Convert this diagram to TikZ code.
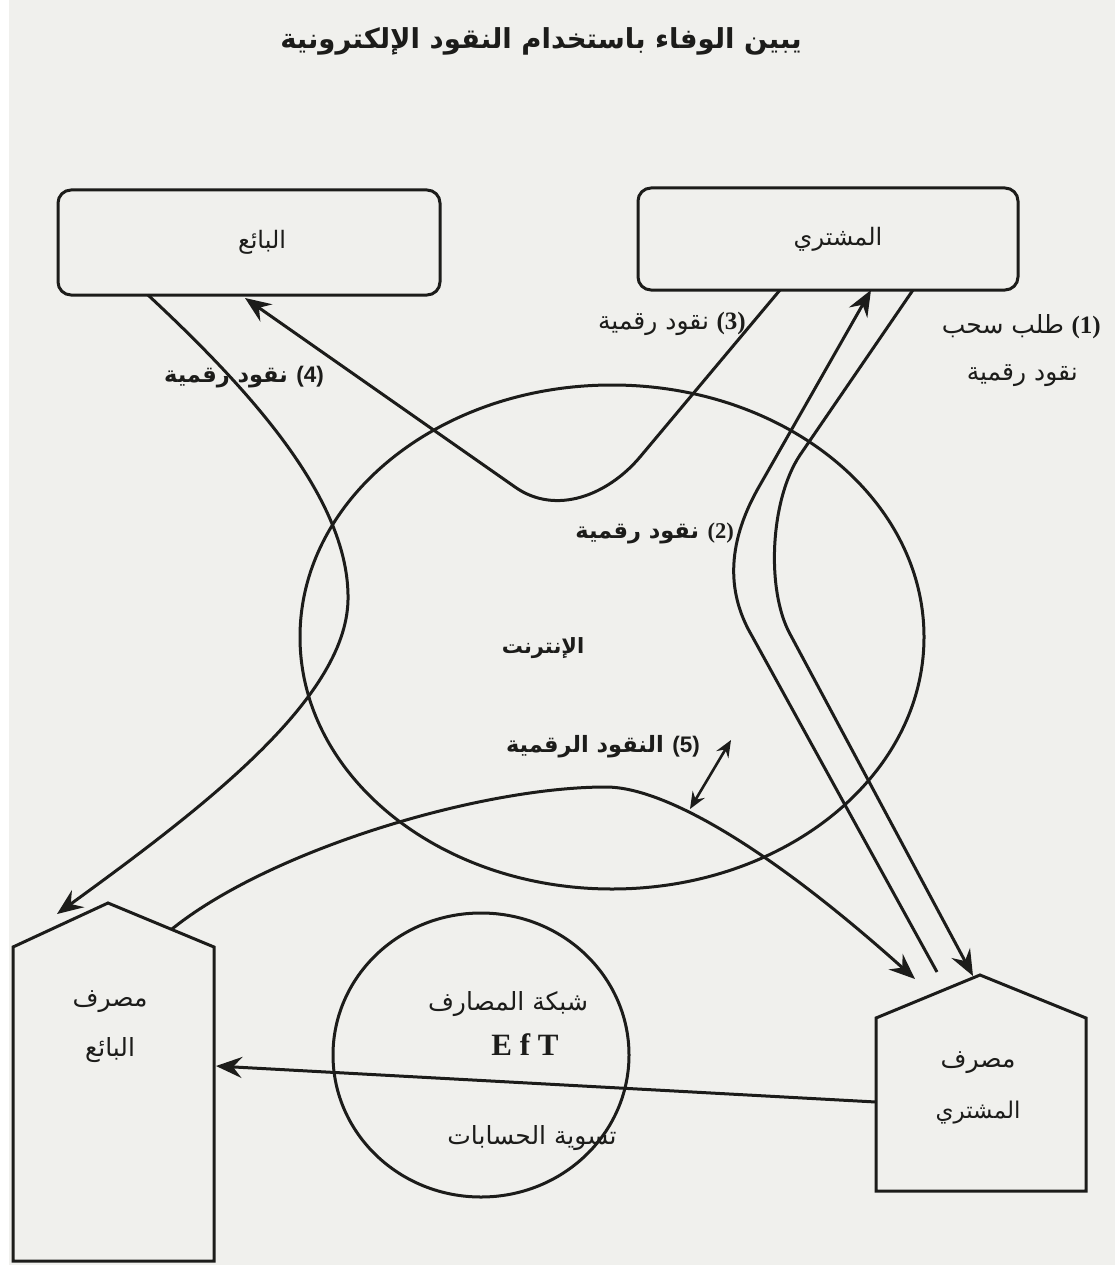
\documentclass[tikz,border=0pt]{standalone}
\usepackage{fontspec}
\usetikzlibrary{arrows.meta,calc,shapes.geometric}
\TeXXeTstate=1
\newfontfamily\ar[Script=Arabic]{DejaVu Sans}
\newfontfamily\numser{Liberation Serif}
\newfontfamily\numsan{Liberation Sans}
\newcommand{\AR}[1]{{\ar\beginR #1\endR}}
\newcommand{\ARB}[1]{{\ar\bfseries\beginR #1\endR}}
\definecolor{bgc}{RGB}{240,240,237}
\definecolor{ink}{RGB}{28,28,26}
\begin{document}
\begin{tikzpicture}[x=1pt,y=-1pt,
  line/.style={draw=ink, line width=3pt},
  arr/.style={line, -{Stealth[length=26pt,width=21pt,inset=9pt]}},
  darr/.style={draw=ink, line width=2.6pt, {Stealth[length=17pt,width=14pt,inset=6pt]}-{Stealth[length=17pt,width=14pt,inset=6pt]}},
  box/.style={draw=ink, line width=3pt, rounded corners=13pt, text=ink, font=\fontsize{24}{28}\selectfont},
  oval/.style={draw=ink, line width=3pt, ellipse, inner sep=0pt},
  lbl/.style={text=ink, inner sep=0pt, font=\fontsize{25}{30}\selectfont},
  blbl/.style={lbl, font=\fontsize{22.5}{27}\selectfont\bfseries},
]
\fill[bgc] (0,0) rectangle (1115,1265);
\fill[white] (0,0) rectangle (9,1265);
\useasboundingbox (0,0) rectangle (1115,1265);

% title
\node[lbl, font=\fontsize{27.5}{33}\selectfont\bfseries] (title) at (541,41) {\ARB{يبين الوفاء باستخدام النقود الإلكترونية}};

% boxes
\node[box, minimum width=382pt, minimum height=105pt] (seller) at (249,242.5) {\hspace*{26pt}\raisebox{4pt}{\AR{البائع}}};
\node[box, minimum width=380pt, minimum height=102pt] (buyer) at (828,239) {\hspace*{20pt}\raisebox{5pt}{\AR{المشتري}}};

% ellipses
\node[oval, minimum width=624pt, minimum height=504pt] (net) at (612,637) {};
\node[blbl, font=\fontsize{21}{25}\selectfont\bfseries] (netT) at (543,648) {\ARB{الإنترنت}};
\node[oval, minimum width=296pt, minimum height=284pt] (eft) at (481,1055) {};
\node[lbl] (eft1) at (508,1004) {\AR{شبكة المصارف}};
\node[lbl, font=\fontsize{31}{36}\selectfont] (eft2) at (525,1045) {\numser\bfseries E f T};
\node[lbl] (eft3) at (532,1138) {\AR{تسوية الحسابات}};

% banks
\coordinate (sbBL) at (13,1261);
\coordinate (sbL) at (13,947);
\coordinate (sbA) at (108,903);
\coordinate (sbR) at (214,947);
\coordinate (sbBR) at (214,1261);
\draw[line, line join=miter] (sbBL) -- (sbL) -- (sbA) -- (sbR) -- (sbBR) -- cycle;
\node[lbl] (sb1) at (110,1002) {\AR{مصرف}};
\node[lbl] (sb2) at (110,1050) {\AR{البائع}};

\coordinate (bbBL) at (876,1191);
\coordinate (bbL) at (876,1018);
\coordinate (bbA) at (980,975);
\coordinate (bbR) at (1086,1018);
\coordinate (bbBR) at (1086,1191);
\draw[line, line join=miter] (bbBL) -- (bbL) -- (bbA) -- (bbR) -- (bbBR) -- cycle;
\node[lbl] (bb1) at (978,1063) {\AR{مصرف}};
\node[lbl, font=\fontsize{23}{28}\selectfont] (bb2) at (978,1113) {\AR{المشتري}};

% connector end points
\coordinate (sellerOut) at (148,295);
\coordinate (sbIn) at (57,914);
\coordinate (buyerOut3) at (780,290);
\coordinate (sellerIn) at (245,298);
\coordinate (bbOut2) at (937,972);
\coordinate (buyerIn2) at (871,290);
\coordinate (buyerOut1) at (913,290);
\coordinate (bbIn1) at (973,976);
\coordinate (sbOut) at (172,929);
\coordinate (bbIn5) at (915,979);
\coordinate (d5a) at (690,809);
\coordinate (d5b) at (731,740);
\coordinate (bbLeft) at (876,1102);
\coordinate (sbRight) at (216,1066);

% connectors
\draw[arr] (sellerOut) .. controls (250,390) and (350,500) .. (348,600)
  .. controls (346,700) and (200,810) .. (sbIn);
\draw[arr] (buyerOut3) -- (640,457) .. controls (608,495) and (556,516) .. (515,487) -- (sellerIn);
\draw[arr] (bbOut2) -- (752,636) .. controls (725,590) and (728,540) .. (760,485) -- (buyerIn2);
\draw[arr] (buyerOut1) -- (800,455) .. controls (770,500) and (766,590) .. (790,634) -- (bbIn1);
\draw[arr] (sbOut) .. controls (270,850) and (480,787) .. (606,787)
  .. controls (660,787) and (760,840) .. (bbIn5);
\draw[darr] (d5a) -- (d5b);
\draw[arr] (bbLeft) -- (sbRight);

% labels
\node[lbl, anchor=east] (l3) at (746,324) {\AR{نقود رقمية}~{\numser\bfseries (3)}};
\node[lbl, anchor=east] (l1a) at (1101,327) {\AR{طلب سحب}~{\numser\bfseries (1)}};
\node[lbl, anchor=east] (l1b) at (1078,376) {\AR{نقود رقمية}};
\node[blbl, anchor=east] (l4) at (324,377) {\ARB{نقود رقمية}~{\numsan\bfseries (4)}};
\node[blbl, anchor=east] (l2) at (734,533) {\ARB{نقود رقمية}~{\numser\bfseries (2)}};
\node[blbl, anchor=east] (l5) at (700,747) {\ARB{النقود الرقمية}~{\numsan\bfseries (5)}};
\end{tikzpicture}
\end{document}
